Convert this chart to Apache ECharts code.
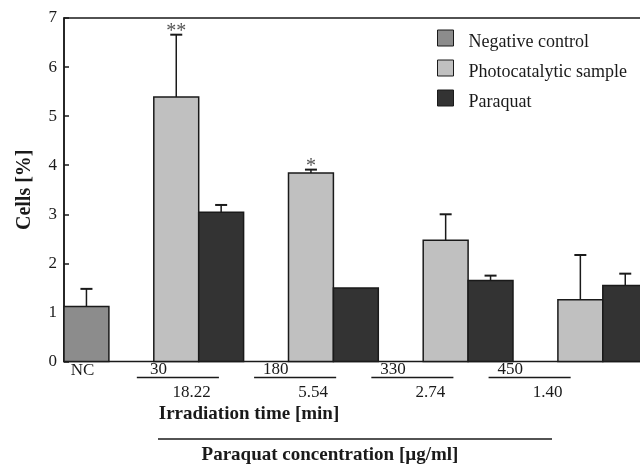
<!DOCTYPE html>
<html>
<head>
<meta charset="utf-8">
<script src="https://cdn.jsdelivr.net/npm/echarts@6/dist/echarts.min.js"></script>
<style>
  html, body { margin: 0; padding: 0; background: #fff; }
  #chart { width: 640px; height: 465px; }
</style>
</head>
<body>
<div id="chart"></div>
<script>
// Group labels
const categories = ['NC', '30', '180', '330', '450'];
const irradiationTimes = ['30', '180', '330', '450'];
const paraquatConcentrations = ['18.22', '5.54', '2.74', '1.40'];
const yTicks = [0, 1, 2, 3, 4, 5, 6, 7];

// Cells [%]: mean and SD per group (index follows `categories`)
const negativeControl = [1.12, null, null, null, null];
const negativeControlSd = [0.36, null, null, null, null];
const photocatalytic = [null, 5.39, 3.84, 2.47, 1.26];
const photocatalyticSd = [null, 1.27, 0.07, 0.53, 0.91];
const paraquat = [null, 3.04, 1.50, 1.65, 1.55];
const paraquatSd = [null, 0.15, 0, 0.10, 0.24];
const photocatalyticSignificance = [null, '**', '*', null, null];

const SERIF = '"Liberation Serif", "Times New Roman", serif';
const INK = '#1a1a1a';
const BAR = 1 / 3;           // bar width in group units

function rows(values, sds) {
  const out = [];
  values.forEach((v, i) => { if (v != null) out.push([i, v, sds[i] || 0]); });
  return out;
}

// One bar per group; `slot` shifts the bar left (-1) or keeps it right of the group centre (0)
function barSeries(name, values, sds, slot, fill, marks, labelBelow) {
  return {
    type: 'custom',
    name: name,
    xAxisIndex: 0,
    yAxisIndex: 0,
    clip: false,
    itemStyle: { color: fill, borderColor: INK, borderWidth: 1 },
    encode: { x: 0, y: 1 },
    data: rows(values, sds),
    renderItem: function (params, api) {
      const i = api.value(0), v = api.value(1), sd = api.value(2);
      const left = i + slot * BAR;
      const base = api.coord([left, 0]);
      const tr = api.coord([left + BAR, v]);
      const cx = (base[0] + tr[0]) / 2;
      const kids = [{
        type: 'rect',
        shape: { x: base[0], y: tr[1], width: tr[0] - base[0], height: base[1] - tr[1] },
        style: { fill: fill, stroke: INK, lineWidth: 1.5 }
      }];
      let markY = tr[1];
      if (sd > 0) {
        const capY = api.coord([left, v + sd])[1];
        kids.push({ type: 'line', shape: { x1: cx, y1: tr[1], x2: cx, y2: capY }, style: { stroke: INK, lineWidth: 1.5 } });
        kids.push({ type: 'line', shape: { x1: cx - 6, y1: capY, x2: cx + 6, y2: capY }, style: { stroke: INK, lineWidth: 2 } });
        markY = capY;
      }
      if (marks && marks[i]) {
        kids.push({ type: 'text', x: cx, y: markY + 7,
          style: { text: marks[i], font: '20px ' + SERIF, fill: '#555', align: 'center', verticalAlign: 'bottom' } });
      }
      if (labelBelow) {
        kids.push({ type: 'text', x: cx - 4, y: base[1] + 9,
          style: { text: categories[i], font: '17px ' + SERIF, fill: INK, align: 'center', verticalAlign: 'middle' } });
      }
      return { type: 'group', children: kids };
    }
  };
}

// Irradiation time over paraquat concentration, separated by a short rule
const groupLabelSeries = {
  type: 'custom',
  name: 'groupLabels',
  xAxisIndex: 1,
  yAxisIndex: 1,
  clip: false,
  silent: true,
  data: irradiationTimes.map((t, i) => [i, 0]),
  encode: { x: 0, y: 1 },
  renderItem: function (params, api) {
    const i = api.value(0);
    const c = api.coord([i, 0]);
    const band = api.size([1, 0])[0];
    const half = band * 0.35;
    return {
      type: 'group',
      children: [
        { type: 'line', shape: { x1: c[0] - half, y1: c[1] + 16, x2: c[0] + half, y2: c[1] + 16 },
          style: { stroke: INK, lineWidth: 1.5 } },
        { type: 'text', x: c[0] - band * 0.165, y: c[1] + 8,
          style: { text: irradiationTimes[i], font: '17px ' + SERIF, fill: INK, align: 'center', verticalAlign: 'middle' } },
        { type: 'text', x: c[0] + half - band * 0.07, y: c[1] + 31,
          style: { text: paraquatConcentrations[i], font: '17px ' + SERIF, fill: INK, align: 'right', verticalAlign: 'middle' } }
      ]
    };
  }
};

const chart = echarts.init(document.getElementById('chart'), null, { renderer: 'canvas' });
chart.setOption({
  animation: false,
  backgroundColor: '#fff',
  textStyle: { fontFamily: SERIF, color: INK },
  grid: [
    { left: 64, top: 18, width: 578, height: 343.5, outerBoundsMode: 'none',
      show: true, borderColor: INK, borderWidth: 1.5, backgroundColor: 'transparent' },
    { left: 119.25, top: 18, width: 469, height: 343.5, outerBoundsMode: 'none' }
  ],
  xAxis: [
    { type: 'value', gridIndex: 0, min: 0, max: 4.291, show: false },
    { type: 'category', gridIndex: 1, data: irradiationTimes, boundaryGap: true, show: false }
  ],
  yAxis: [
    {
      type: 'value', gridIndex: 0, min: yTicks[0], max: yTicks[yTicks.length - 1], interval: 1,
      name: 'Cells [%]', nameLocation: 'middle', nameGap: 29,
      nameTextStyle: { fontFamily: SERIF, fontWeight: 'bold', fontSize: 20, color: INK },
      axisLine: { show: true, lineStyle: { color: INK, width: 1.5 } },
      axisTick: { show: true, inside: true, length: 5, lineStyle: { color: INK, width: 1.5 } },
      axisLabel: { margin: 7, fontFamily: SERIF, fontSize: 17, color: INK },
      splitLine: { show: false }
    },
    { type: 'value', gridIndex: 1, min: 0, max: 1, show: false }
  ],
  legend: {
    orient: 'vertical',
    left: 437,
    top: 25,
    padding: 0,
    itemWidth: 16,
    itemHeight: 16,
    itemGap: 4,
    icon: 'rect',
    itemStyle: { borderColor: INK, borderWidth: 1 },
    formatter: function (name) { return '{t|' + name + '}'; },
    textStyle: {
      rich: { t: { fontFamily: SERIF, fontSize: 18, color: INK, lineHeight: 18, padding: [8, 0, 0, 10] } }
    },
    data: ['Negative control', 'Photocatalytic sample', 'Paraquat']
  },
  graphic: [
    { type: 'text', x: 249, y: 414,
      style: { text: 'Irradiation time [min]', font: 'bold 19px ' + SERIF, fill: INK, align: 'center', verticalAlign: 'middle' } },
    { type: 'line', shape: { x1: 158, y1: 439, x2: 552, y2: 439 }, style: { stroke: INK, lineWidth: 1.5 } },
    { type: 'text', x: 330, y: 455,
      style: { text: 'Paraquat concentration [\u00b5g/ml]', font: 'bold 19px ' + SERIF, fill: INK, align: 'center', verticalAlign: 'middle' } }
  ],
  series: [
    barSeries('Negative control', negativeControl, negativeControlSd, 0, '#8c8c8c', null, true),
    barSeries('Photocatalytic sample', photocatalytic, photocatalyticSd, -1, '#c0c0c0', photocatalyticSignificance, false),
    barSeries('Paraquat', paraquat, paraquatSd, 0, '#333333', null, false),
    groupLabelSeries
  ]
});
</script>
</body>
</html>
